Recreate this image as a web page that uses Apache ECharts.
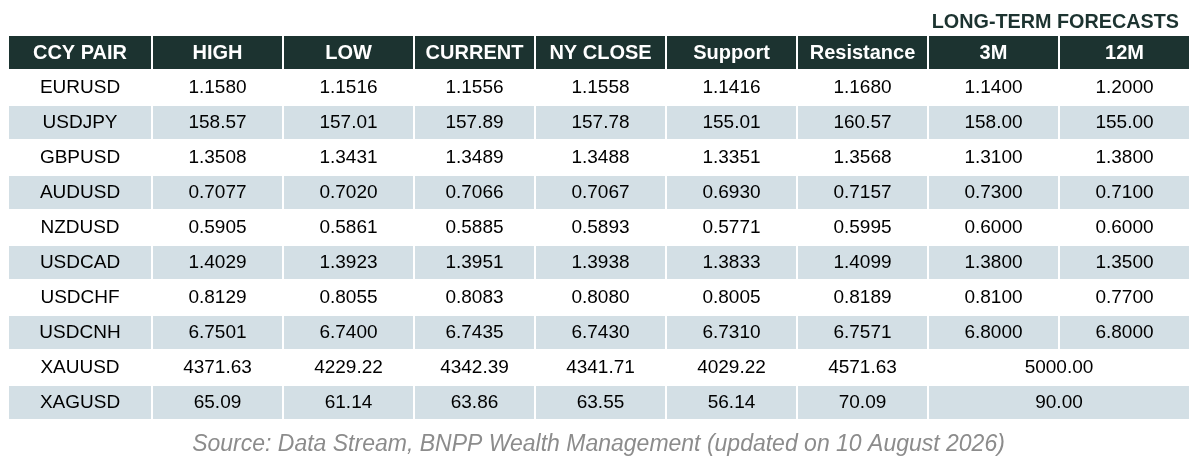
<!DOCTYPE html>
<html><head><meta charset="utf-8">
<script src="https://cdn.jsdelivr.net/npm/echarts@6/dist/echarts.min.js"></script>
<style>html,body{margin:0;padding:0;background:#fff}#c{width:1197px;height:460px}</style>
</head><body><div id="c"></div>
<script>
// ---- data ----
const headers = ['CCY PAIR','HIGH','LOW','CURRENT','NY CLOSE','Support','Resistance','3M','12M'];
const pairs = ['EURUSD','USDJPY','GBPUSD','AUDUSD','NZDUSD','USDCAD','USDCHF','USDCNH','XAUUSD','XAGUSD'];
const decimals = [4,2,4,4,4,4,4,4,2,2];
const high = [1.1580,158.57,1.3508,0.7077,0.5905,1.4029,0.8129,6.7501,4371.63,65.09];
const low = [1.1516,157.01,1.3431,0.7020,0.5861,1.3923,0.8055,6.7400,4229.22,61.14];
const current = [1.1556,157.89,1.3489,0.7066,0.5885,1.3951,0.8083,6.7435,4342.39,63.86];
const nyClose = [1.1558,157.78,1.3488,0.7067,0.5893,1.3938,0.8080,6.7430,4341.71,63.55];
const support = [1.1416,155.01,1.3351,0.6930,0.5771,1.3833,0.8005,6.7310,4029.22,56.14];
const resistance = [1.1680,160.57,1.3568,0.7157,0.5995,1.4099,0.8189,6.7571,4571.63,70.09];
const forecast3M = [1.1400,158.00,1.3100,0.7300,0.6000,1.3800,0.8100,6.8000,5000.00,90.00];
const forecast12M = [1.2000,155.00,1.3800,0.7100,0.6000,1.3500,0.7700,6.8000,null,null]; // null = merged with 3M
const titleText = 'LONG-TERM FORECASTS';
const sourceText = 'Source: Data Stream, BNPP Wealth Management (updated on 10 August 2026)';

// ---- layout (not data) ----
const colWidths = [144,131,131,121,131,131,131,131,131];
const colStart = [0];
colWidths.forEach((w,i)=>colStart.push(colStart[i]+w));
const totalW = colStart[colStart.length-1];

const columns = [null, high, low, current, nyClose, support, resistance, forecast3M, forecast12M];
const rowsCat = ['header'].concat(pairs);

const cells = []; // {value:[x0,row,x1], text, kind}
headers.forEach((h,c)=>{
  cells.push({value:[colStart[c],0,colStart[c+1]], text:h, kind:'head'});
});
pairs.forEach((p,r)=>{
  const row = r+1;
  const kind = (r%2===1)?'alt':'plain';
  cells.push({value:[colStart[0],row,colStart[1]], text:p, kind});
  for(let c=1;c<columns.length;c++){
    const v = columns[c][r];
    if(v===null) continue;
    let span = 1;
    if(c+1<columns.length && columns[c+1][r]===null) span = 2;
    cells.push({value:[colStart[c],row,colStart[c+span]], text:v.toFixed(decimals[r]), kind});
  }
});

const chart = echarts.init(document.getElementById('c'), null, {renderer:'canvas'});
chart.setOption({
  animation:false,
  backgroundColor:'#ffffff',
  title:[
    {text:titleText, right:13, top:8, textStyle:{fontFamily:'Liberation Sans', fontWeight:'bold', fontSize:19.8, color:'#1c3330'}},
    {text:sourceText, left:'center', top:428, textStyle:{fontFamily:'Liberation Sans', fontStyle:'italic', fontWeight:'normal', fontSize:23, color:'#8c8c8c'}}
  ],
  grid:{left:9, top:36, width:totalW, height:385},
  xAxis:{type:'value', min:0, max:totalW, show:false},
  yAxis:{type:'category', data:rowsCat, inverse:true, show:false},
  series:[{
    type:'custom',
    clip:false,
    data:cells,
    encode:{x:[0,2], y:1},
    renderItem:function(params, api){
      const item = cells[params.dataIndex];
      const row = api.value(1);
      const p0 = api.coord([api.value(0), row]);
      const p1 = api.coord([api.value(2), row]);
      const bh = api.size([0,1])[1];
      const x = p0[0], y = p0[1]-bh/2, w = p1[0]-p0[0]-2, h = bh-2;
      const fill = item.kind==='head' ? '#1c3330' : (item.kind==='alt' ? '#d3dfe5' : '#ffffff');
      const isHead = item.kind==='head';
      return {type:'group', children:[
        {type:'rect', shape:{x:x, y:y, width:w, height:h}, style:{fill:fill}},
        {type:'text', style:{x:x+w/2, y:y+h/2+ (isHead?1:0), text:item.text, align:'center', verticalAlign:'middle',
          fontFamily:'Liberation Sans', fontSize:isHead?20:19, fontWeight:isHead?'bold':'normal',
          fill:isHead?'#ffffff':'#000000'}}
      ]};
    }
  }]
});
</script></body></html>
